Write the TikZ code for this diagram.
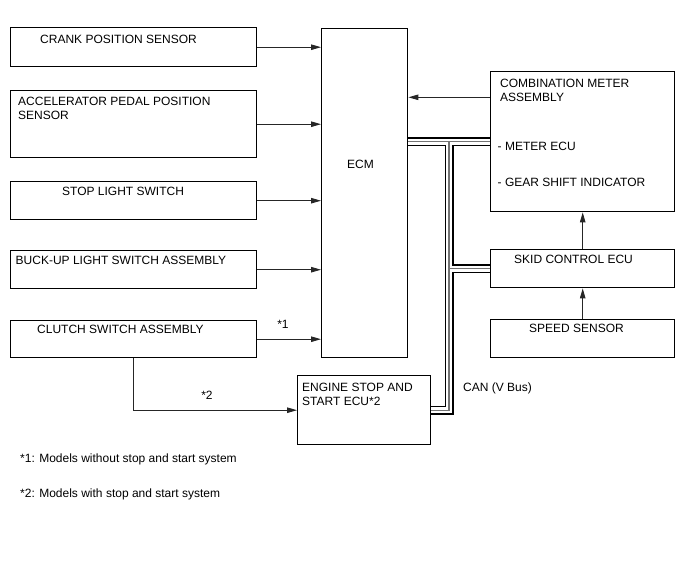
\documentclass[tikz,border=0pt]{standalone}
\usepackage{fontspec}
\setmainfont{Liberation Sans}
\usetikzlibrary{arrows.meta,positioning,calc,backgrounds}

\begin{document}
\begin{tikzpicture}[x=1pt,y=-1pt,
    font=\fontsize{12pt}{14pt}\selectfont,
    box/.style={draw=black,line width=1.4pt,inner sep=0pt,anchor=north west},
    sensor/.style={box,minimum width=246pt,minimum height=38pt},
    ecu/.style={box,minimum width=184pt,minimum height=38pt},
    txt/.style={inner sep=0pt,anchor=base west,align=left},
    sig/.style={draw=black!85,line width=0.9pt,-{Triangle[length=10pt,width=5.5pt]}},
    canbus/.style={line width=1.7pt,double=white,double distance=5.6pt},
    cancore/.style={line width=1.3pt,black!55},
  ]
  \useasboundingbox (0,0) rectangle (688,560);
  % Sensors and switches
  \node[sensor,minimum height=39pt] (crank) at (10,27) {};
  \node[sensor,minimum height=67pt] (accel) at (10,90) {};
  \node[sensor] (stop) at (10,181) {};
  \node[sensor] (buck) at (10,250) {};
  \node[sensor,minimum height=37pt] (clutch) at (10,320) {};
  \node[txt] (crank-t) at (40,43.3) {CRANK POSITION SENSOR};
  \node[txt] (accel-t) at (18,119) {ACCELERATOR PEDAL POSITION\\SENSOR};
  \node[txt] (stop-t) at (62,195) {STOP LIGHT SWITCH};
  \node[txt] (buck-t) at (15.5,264) {BUCK-UP LIGHT SWITCH ASSEMBLY};
  \node[txt] (clutch-t) at (37,333.3) {CLUTCH SWITCH ASSEMBLY};
  % ECM
  \node[box,minimum width=86pt,minimum height=329pt] (ecm) at (321,28) {};
  \node[txt] (ecm-t) at (347,168.3) {ECM};
  % Meter side
  \node[ecu,minimum height=140pt] (comb) at (490,71) {};
  \node[ecu] (skid) at (490,249) {};
  \node[ecu] (speed) at (490,319) {};
  \node[txt] (comb-t) at (500,101.7) {COMBINATION METER\\ASSEMBLY};
  \node[txt] (meter-t) at (497.5,150.7) {- METER ECU};
  \node[txt] (gear-t) at (497.5,186.5) {- GEAR SHIFT INDICATOR};
  \node[txt] (skid-t) at (514,263.3) {SKID CONTROL ECU};
  \node[txt] (speed-t) at (529,332.3) {SPEED SENSOR};
  % Engine stop and start ECU
  \node[box,minimum width=133pt,minimum height=69pt] (engine) at (297,375) {};
  \node[txt] (engine-t) at (302,405.7) {ENGINE STOP AND\\START ECU*2};
  % Signal lines
  \foreach \src in {crank,accel,stop,buck,clutch}
    \draw[sig] (\src.east) -- (\src.east -| ecm.west);
  \draw[sig] (comb.west |- 0,97.3) -- (ecm.east |- 0,97.3);
  \draw[sig] (skid.north) -- (comb.south);
  \draw[sig] (speed.north) -- (skid.south);
  \draw[sig] (clutch.south) |- (engine.west);
  \node[txt,anchor=base] (star1) at (283,328) {*1};
  \node[txt,anchor=base] (star2) at (207,399) {*2};
  % CAN bus
  \coordinate (canT) at (449,141.7);
  \begin{scope}[on background layer]
    \draw[canbus] (ecm.east |- canT) -- (comb.west |- canT)
      (canT) -- (canT |- engine.east) -- (engine.east)
      (canT |- skid.west) -- (skid.west);
    \draw[cancore] (ecm.east |- canT) -- (comb.west |- canT)
      (canT) -- (canT |- engine.east) -- (engine.east)
      (canT |- skid.west) -- (skid.west);
  \end{scope}
  \node[txt] (can-t) at (463,391) {CAN (V Bus)};
  % Notes
  \node[txt] (note1) at (20,462) {*1: Models without stop and start system};
  \node[txt] (note2) at (20,497) {*2: Models with stop and start system};
\end{tikzpicture}
\end{document}
